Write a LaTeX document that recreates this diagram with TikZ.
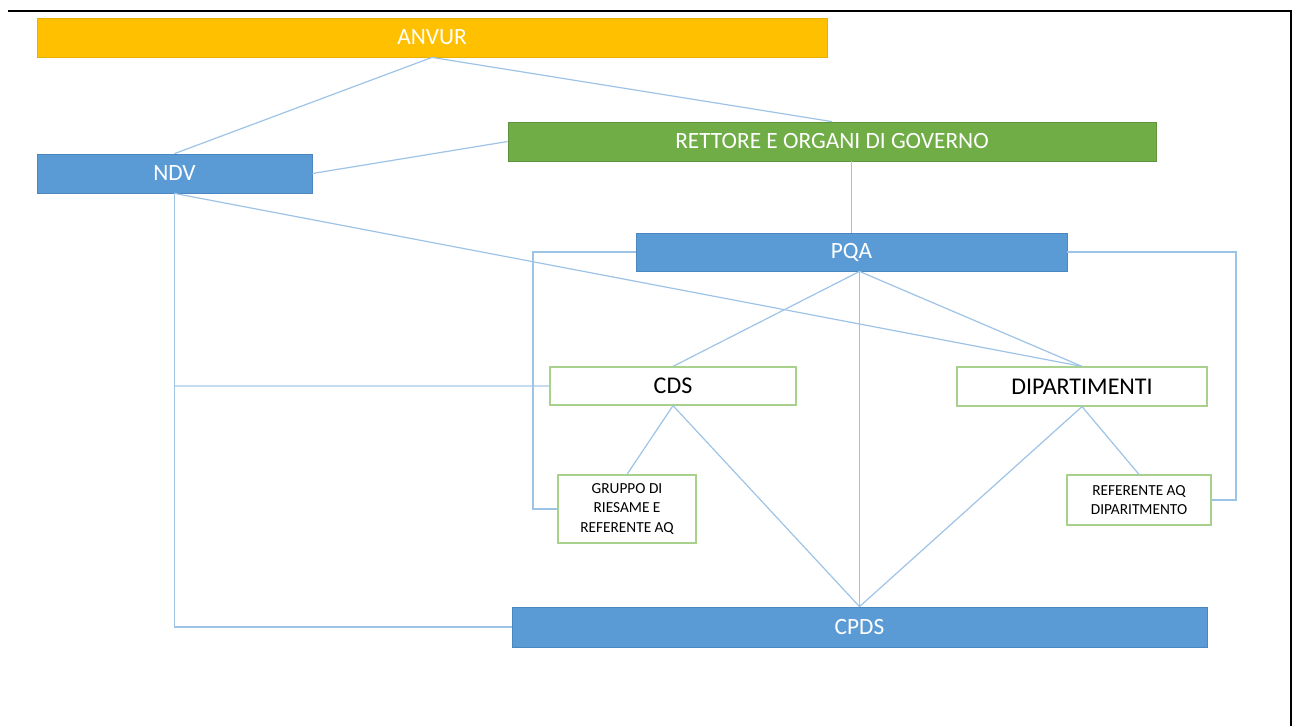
\documentclass[tikz,border=0pt]{standalone}
\usepackage{fontspec}
\setmainfont{Carlito}
\definecolor{gold}{HTML}{FFC000}
\definecolor{grn}{HTML}{70AD47}
\definecolor{blu}{HTML}{5B9BD5}
\definecolor{bluedge}{HTML}{4A86C0}
\definecolor{grnedge}{HTML}{A9D18E}
\definecolor{link}{HTML}{9DC3E6}
\definecolor{linklt}{HTML}{C5DCF0}
\begin{document}
\begin{tikzpicture}[x=0.75pt,y=-0.75pt,
  box/.style={rectangle,inner sep=0pt,text=white,font=\fontsize{17.5}{20}\selectfont},
  goldbox/.style={box,fill=gold,draw=gold!92!black,line width=0.6pt},
  grnbox/.style={box,fill=grn,draw=grn!85!black,line width=0.6pt},
  blubox/.style={box,fill=blu,draw=bluedge,line width=0.6pt},
  whitebox/.style={rectangle,inner sep=0pt,fill=white,draw=grnedge,line width=0.9pt,text=black,font=\fontsize{18}{21}\selectfont},
  smallbox/.style={whitebox,align=center,font=\fontsize{11.5}{14.3}\selectfont},
  conn/.style={draw=link,line width=0.9pt},
  frame/.style={draw=black,line width=1.2pt}]
\useasboundingbox (0,0) rectangle (1296,726);
\coordinate (f1) at (8,11);
\coordinate (f2) at (1291,11);
\coordinate (f3) at (1291,726);
\draw[frame] (f1) -- (f2) -- (f3);

\node[goldbox,minimum width=790*0.75pt,minimum height=39*0.75pt] (anvur) at (432,37.5) {ANVUR};
\node[grnbox,minimum width=648*0.75pt,minimum height=39*0.75pt] (rett) at (832,141.5) {RETTORE E ORGANI DI GOVERNO};
\node[blubox,minimum width=275*0.75pt,minimum height=39*0.75pt] (ndv) at (174.5,173.5) {NDV};
\node[blubox,minimum width=431*0.75pt,minimum height=38*0.75pt] (pqa) at (851.5,252) {PQA};
\node[whitebox,minimum width=246*0.75pt,minimum height=38*0.75pt] (cds) at (673,386) {CDS};
\node[whitebox,minimum width=250*0.75pt,minimum height=39*0.75pt] (dip) at (1082,386.5) {DIPARTIMENTI};
\node[smallbox,minimum width=138*0.75pt,minimum height=68*0.75pt] (grp) at (627,509) {GRUPPO DI\\RIESAME E\\REFERENTE AQ};
\node[smallbox,minimum width=144*0.75pt,minimum height=50*0.75pt] (ref) at (1139,500) {REFERENTE AQ\\DIPARITMENTO};
\node[blubox,minimum width=695*0.75pt,minimum height=40*0.75pt] (cpds) at (859.5,627) {CPDS};

\coordinate (ndvdown) at (ndv.south |- cpds.west);
\coordinate (ndvmid) at (ndv.south |- cds.west);
\coordinate (pqal) at (533,252);
\coordinate (pqalb) at (533,509);
\coordinate (pqar) at (1236,252);
\coordinate (pqarb) at (1236,500);
\coordinate (pqabot) at (cpds.north |- pqa.south);
\coordinate (retbot) at (pqa.north |- rett.south);

\draw[conn] (anvur.south) -- (ndv.north);
\draw[conn] (anvur.south) -- (rett.north);
\draw[conn] (ndv.east) -- (rett.west);
\draw[conn] (ndv.south) -- (ndvdown) -- (cpds.west);
\draw[draw=linklt,line width=1.6pt] (ndvmid) -- (cds.west);
\draw[conn] (ndv.south) -- (dip.north);
\draw[conn] (retbot) -- (pqa.north);
\draw[conn] (pqa.west |- pqal) -- (pqal) -- (pqalb) -- (grp.west);
\draw[conn] (pqa.east |- pqar) -- (pqar) -- (pqarb) -- (ref.east);
\draw[conn] (pqabot) -- (cds.north);
\draw[conn] (pqabot) -- (dip.north);
\draw[conn] (pqabot) -- (cpds.north);
\draw[conn] (cds.south) -- (grp.north);
\draw[conn] (cds.south) -- (cpds.north);
\draw[conn] (dip.south) -- (cpds.north);
\draw[conn] (dip.south) -- (ref.north);
\end{tikzpicture}
\end{document}
